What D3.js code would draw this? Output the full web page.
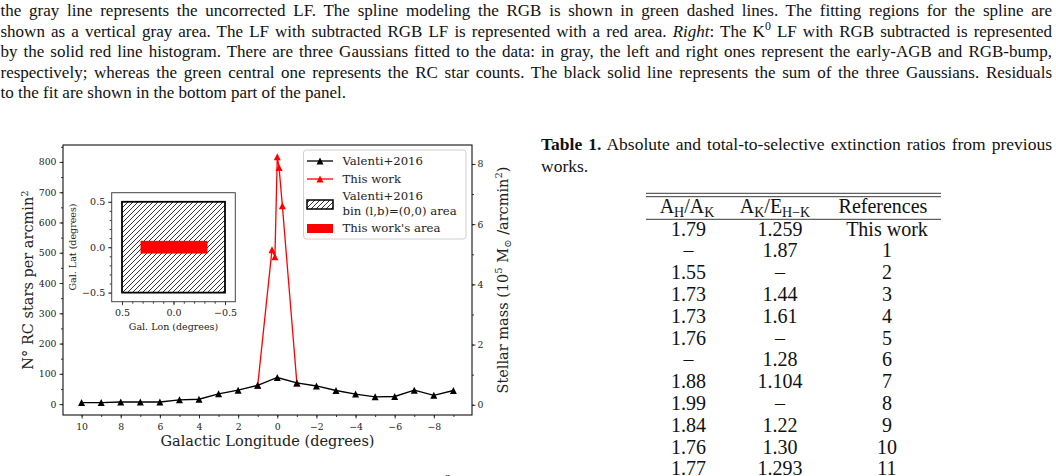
<!DOCTYPE html>
<html>
<head>
<meta charset="utf-8">
<script src="https://cdn.jsdelivr.net/npm/d3@7"></script>
<style>
  html, body { margin: 0; padding: 0; background: #fff; }
  svg { display: block; }
  .serif { font-family: "Liberation Serif", "Times New Roman", serif; fill: #111; }
  .mpl { font-family: "DejaVu Serif", serif; fill: #222; }
</style>
</head>
<body>
<svg id="page" width="1056" height="476"></svg>
<script>
// ---- data ----
const longitudes = [10, 9, 8, 7, 6, 5, 4, 3, 2, 1, 0, -1, -2, -3, -4, -5, -6, -7, -8, -9];
const valentiCounts = [5, 5, 7, 7, 7, 14, 16, 34, 46, 62, 88, 70, 60, 45, 33, 24, 25, 46, 29, 45];
const thisWorkLon = [1, 0.27, 0.12, 0, -0.09, -0.26, -1];
const thisWorkCounts = [62, 510, 487, 817, 782, 655, 70];

const countTicks = [0, 100, 200, 300, 400, 500, 600, 700, 800];
const massTicks = [0, 2, 4, 6, 8];
const lonTicks = [10, 8, 6, 4, 2, 0, -2, -4, -6, -8];
const insetTicks = [0.5, 0, -0.5];

// inset: areas in (lon, lat)
const valentiBinLon = [0.5, -0.5];
const valentiBinLat = [-0.5, 0.5];
const thisWorkAreaLon = [0.32, -0.33];
const thisWorkAreaLat = [-0.07, 0.07];

// table 1
const tableAHAK = ["1.79", "–", "1.55", "1.73", "1.73", "1.76", "–", "1.88", "1.99", "1.84", "1.76", "1.77"];
const tableAKEHK = ["1.259", "1.87", "–", "1.44", "1.61", "–", "1.28", "1.104", "–", "1.22", "1.30", "1.293"];
const tableRefs = ["This work", "1", "2", "3", "4", "5", "6", "7", "8", "9", "10", "11"];

const svg = d3.select("#page");
const fmt = d => String(d).replace("-", "\u2212");

// ---- caption paragraph at top (justified lines) ----
const captionLines = [
  [{t: "the gray line represents the uncorrected LF. The spline modeling the RGB is shown in green dashed lines. The fitting regions for the spline are"}],
  [{t: "shown as a vertical gray area. The LF with subtracted RGB LF is represented with a red area. "}, {t: "Right", it: true},
   {t: ": The K"}, {t: "0", sup: true}, {t: " LF with RGB subtracted is represented"}],
  [{t: "by the solid red line histogram. There are three Gaussians fitted to the data: in gray, the left and right ones represent the early-AGB and RGB-bump,"}],
  [{t: "respectively; whereas the green central one represents the RC star counts. The black solid line represents the sum of the three Gaussians. Residuals"}],
  [{t: "to the fit are shown in the bottom part of the panel."}]
];

function writeLine(x0, x1, y, parts, size, justify) {
  const t = svg.append("text").attr("class", "serif").attr("x", x0).attr("y", y)
    .style("font-size", size + "px");
  parts.forEach(p => {
    const s = t.append("tspan").text(p.t);
    if (p.it) s.style("font-style", "italic");
    if (p.b) s.style("font-weight", "bold");
    if (p.sup) s.style("font-size", (size * 0.7) + "px").attr("baseline-shift", "super");
  });
  if (justify) {
    const natural = t.node().getComputedTextLength();
    const spaces = parts.map(p => p.t).join("").split(" ").length - 1;
    const extra = (x1 - x0) - natural;
    if (extra >= 0) t.style("word-spacing", (extra / spaces) + "px");
    else t.attr("textLength", x1 - x0).attr("lengthAdjust", "spacingAndGlyphs");
  }
  return t;
}

captionLines.forEach((parts, i) => {
  writeLine(0.5, 1052, 16 + i * 20.6, parts, 17, i < captionLines.length - 1);
});

// ---- table caption ----
writeLine(541, 1052, 150, [{t: "Table 1.", b: true}, {t: " Absolute and total-to-selective extinction ratios from previous"}], 17.5, true);
writeLine(541, 1052, 171.5, [{t: "works."}], 17.5, false);

// ---- table ----
const tab = svg.append("g");
const tx0 = 646, tx1 = 941;
[193.3, 196.7].forEach(yy => tab.append("line").attr("x1", tx0).attr("x2", tx1).attr("y1", yy).attr("y2", yy)
  .attr("stroke", "#222").attr("stroke-width", 0.9));
tab.append("line").attr("x1", tx0).attr("x2", tx1).attr("y1", 219.3).attr("y2", 219.3)
  .attr("stroke", "#222").attr("stroke-width", 0.9);

const colX = [688.5, 780, 887];
const tsize = 20;
function header(x, parts) {
  const t = tab.append("text").attr("class", "serif").attr("x", x).attr("y", 213)
    .attr("text-anchor", "middle").style("font-size", tsize + "px");
  parts.forEach(p => {
    const s = t.append("tspan").text(p.t);
    if (p.sub) s.style("font-size", (tsize * 0.7) + "px").attr("dy", 3.5);
    else if (p.back) s.attr("dy", -3.5);
  });
}
header(687, [{t: "A"}, {t: "H", sub: true}, {t: "/A", back: true}, {t: "K", sub: true}]);
header(775, [{t: "A"}, {t: "K", sub: true}, {t: "/E", back: true}, {t: "H\u2212K", sub: true}]);
header(883, [{t: "References"}]);

const rowY = i => 235.5 + i * 21.8;
[tableAHAK, tableAKEHK, tableRefs].forEach((col, c) => {
  tab.selectAll(null).data(col).enter().append("text")
    .attr("class", "serif")
    .attr("x", colX[c]).attr("y", (d, i) => rowY(i))
    .attr("text-anchor", "middle").style("font-size", tsize + "px")
    .text(d => d);
});

// stray superscript of the next caption, cut by the page edge
svg.append("text").attr("class", "serif").attr("x", 445).attr("y", 483).style("font-size", "12px").text("2");

// ---- main chart ----
const L = 63, R = 472, T = 145, B = 415;
const x = d3.scaleLinear().domain([10.95, -9.95]).range([L, R]);
const y = d3.scaleLinear().domain([-36, 856]).range([B, T]);
const y2 = d3.scaleLinear().domain([-0.34, 8.63]).range([B, T]);

const defs = svg.append("defs");
const hatch = defs.append("pattern").attr("id", "hatch").attr("patternUnits", "userSpaceOnUse")
  .attr("width", 5).attr("height", 5);
hatch.append("path").attr("d", "M0,5 L5,0 M-1,1 L1,-1 M4,6 L6,4")
  .attr("stroke", "#000").attr("stroke-width", 0.8);

const chart = svg.append("g");

function styleAxis(g, size) {
  g.select(".domain").remove();
  g.selectAll(".tick line").attr("stroke", "#222").attr("stroke-width", 0.9);
  g.selectAll(".tick text").attr("class", "mpl").attr("fill", "#222")
    .style("font-size", size + "px");
}

// minor ticks
chart.append("g").attr("transform", `translate(${L},0)`)
  .call(d3.axisLeft(y).tickValues(d3.range(-0, 851, 50)).tickSize(2).tickFormat(""))
  .call(g => styleAxis(g, 9.3));
chart.append("g").attr("transform", `translate(${R},0)`)
  .call(d3.axisRight(y2).tickValues(d3.range(0, 9, 1)).tickSize(2).tickFormat(""))
  .call(g => styleAxis(g, 9.3));
chart.append("g").attr("transform", `translate(0,${B})`)
  .call(d3.axisBottom(x).tickValues(d3.range(10, -10, -1)).tickSize(2).tickFormat(""))
  .call(g => styleAxis(g, 9.3));

// major ticks
chart.append("g").attr("transform", `translate(${L},0)`)
  .call(d3.axisLeft(y).tickValues(countTicks).tickSize(3.5).tickPadding(3).tickFormat(fmt))
  .call(g => styleAxis(g, 9.3));
chart.append("g").attr("transform", `translate(${R},0)`)
  .call(d3.axisRight(y2).tickValues(massTicks).tickSize(3.5).tickPadding(2).tickFormat(fmt))
  .call(g => styleAxis(g, 9.3));
chart.append("g").attr("transform", `translate(0,${B})`)
  .call(d3.axisBottom(x).tickValues(lonTicks).tickSize(3.5).tickPadding(4.5).tickFormat(fmt))
  .call(g => styleAxis(g, 9.3));

chart.append("rect").attr("x", L).attr("y", T).attr("width", R - L).attr("height", B - T)
  .attr("fill", "none").attr("stroke", "#111").attr("stroke-width", 1.1);

// axis labels
chart.append("text").attr("class", "mpl").attr("fill", "#222")
  .attr("transform", `translate(33,280) rotate(-90)`).attr("text-anchor", "middle")
  .style("font-size", "14.5px")
  .call(t => {
    t.append("tspan").text("N° RC stars per arcmin");
    t.append("tspan").text("2").style("font-size", "10px").attr("baseline-shift", "super");
  });
chart.append("text").attr("class", "mpl").attr("fill", "#222")
  .attr("transform", `translate(508,280) rotate(-90)`).attr("text-anchor", "middle")
  .style("font-size", "14.5px")
  .call(t => {
    t.append("tspan").text("Stellar mass (10");
    t.append("tspan").text("5").style("font-size", "10px").attr("dy", -6);
    t.append("tspan").text(" M").attr("dy", 6);
    t.append("tspan").text("\u2299").style("font-size", "10px").attr("dy", 3);
    t.append("tspan").text(" /arcmin").attr("dy", -3);
    t.append("tspan").text("2").style("font-size", "10px").attr("dy", -6);
    t.append("tspan").text(")").attr("dy", 6);
  });
chart.append("text").attr("class", "mpl").attr("fill", "#222")
  .attr("x", (L + R) / 2).attr("y", 446).attr("text-anchor", "middle")
  .style("font-size", "14.5px").text("Galactic Longitude (degrees)");

// series
const tri = r => `M0,${-r}L${r},${r}L${-r},${r}Z`;
const line = d3.line().x(d => x(d[0])).y(d => y(d[1]));
const redPts = thisWorkLon.map((l, i) => [l, thisWorkCounts[i]]);
const blackPts = longitudes.map((l, i) => [l, valentiCounts[i]]);

chart.append("path").datum(redPts).attr("d", line)
  .attr("fill", "none").attr("stroke", "#ff0000").attr("stroke-width", 1.3);
chart.selectAll(".redm").data(redPts).enter().append("path")
  .attr("transform", d => `translate(${x(d[0])},${y(d[1])})`)
  .attr("d", tri(3.5)).attr("fill", "#ff0000");

chart.append("path").datum(blackPts).attr("d", line)
  .attr("fill", "none").attr("stroke", "#000").attr("stroke-width", 1.4);
chart.selectAll(".blkm").data(blackPts).enter().append("path")
  .attr("transform", d => `translate(${x(d[0])},${y(d[1])})`)
  .attr("d", tri(3.5)).attr("fill", "#000");

// ---- inset ----
const ix = d3.scaleLinear().domain([0.6, -0.6]).range([111.7, 235.3]);
const iy = d3.scaleLinear().domain([-0.6, 0.6]).range([301.7, 192.7]);
const inset = svg.append("g");
inset.append("rect").attr("x", 111.7).attr("y", 192.7).attr("width", 235.3 - 111.7).attr("height", 301.7 - 192.7)
  .attr("fill", "#fff");
inset.append("rect")
  .attr("x", ix(valentiBinLon[0])).attr("y", iy(valentiBinLat[1]))
  .attr("width", ix(valentiBinLon[1]) - ix(valentiBinLon[0]))
  .attr("height", iy(valentiBinLat[0]) - iy(valentiBinLat[1]))
  .attr("fill", "url(#hatch)").attr("stroke", "#000").attr("stroke-width", 1.8);
inset.append("rect")
  .attr("x", ix(thisWorkAreaLon[0])).attr("y", iy(thisWorkAreaLat[1]))
  .attr("width", ix(thisWorkAreaLon[1]) - ix(thisWorkAreaLon[0]))
  .attr("height", iy(thisWorkAreaLat[0]) - iy(thisWorkAreaLat[1]))
  .attr("fill", "#ff0000");

inset.append("g").attr("transform", "translate(0,301.7)")
  .call(d3.axisBottom(ix).tickValues(d3.range(-0.5, 0.51, 0.1)).tickSize(2).tickFormat(""))
  .call(g => styleAxis(g, 9.5));
inset.append("g").attr("transform", "translate(111.7,0)")
  .call(d3.axisLeft(iy).tickValues(d3.range(-0.5, 0.51, 0.1)).tickSize(2).tickFormat(""))
  .call(g => styleAxis(g, 9.5));
inset.append("g").attr("transform", "translate(0,301.7)")
  .call(d3.axisBottom(ix).tickValues(insetTicks).tickSize(3.5).tickPadding(4).tickFormat(d => fmt(d3.format(".1f")(d))))
  .call(g => styleAxis(g, 9.5));
inset.append("g").attr("transform", "translate(111.7,0)")
  .call(d3.axisLeft(iy).tickValues(insetTicks).tickSize(3.5).tickPadding(3).tickFormat(d => fmt(d3.format(".1f")(d))))
  .call(g => styleAxis(g, 9.5));
inset.append("rect").attr("x", 111.7).attr("y", 192.7).attr("width", 235.3 - 111.7).attr("height", 301.7 - 192.7)
  .attr("fill", "none").attr("stroke", "#444").attr("stroke-width", 1);
inset.append("text").attr("class", "mpl").attr("fill", "#222")
  .attr("transform", "translate(75.5,247) rotate(-90)").attr("text-anchor", "middle")
  .style("font-size", "9.5px").text("Gal. Lat (degrees)");
inset.append("text").attr("class", "mpl").attr("fill", "#222")
  .attr("x", 173.5).attr("y", 330).attr("text-anchor", "middle")
  .style("font-size", "9.5px").text("Gal. Lon (degrees)");

// ---- legend ----
const leg = svg.append("g");
leg.append("rect").attr("x", 303.5).attr("y", 150).attr("width", 162.5).attr("height", 89).attr("rx", 3)
  .attr("fill", "#fff").attr("fill-opacity", 0.8).attr("stroke", "#d0d0d0").attr("stroke-width", 1);
const hx0 = 307, hx1 = 333, tx = 342.5;
[[161, "#000"], [179, "#ff0000"]].forEach(([yy, c]) => {
  leg.append("line").attr("x1", hx0).attr("x2", hx1).attr("y1", yy).attr("y2", yy)
    .attr("stroke", c).attr("stroke-width", 1.3);
  leg.append("path").attr("transform", `translate(${(hx0 + hx1) / 2},${yy})`).attr("d", tri(3.5)).attr("fill", c);
});
leg.append("rect").attr("x", hx0).attr("y", 200).attr("width", hx1 - hx0).attr("height", 9)
  .attr("fill", "url(#hatch)").attr("stroke", "#000").attr("stroke-width", 1.5);
leg.append("rect").attr("x", hx0).attr("y", 224).attr("width", hx1 - hx0).attr("height", 9)
  .attr("fill", "#ff0000");
const legendLabels = [["Valenti+2016", 165], ["This work", 183], ["Valenti+2016", 200], ["bin (l,b)=(0,0) area", 214.5], ["This work's area", 232]];
leg.selectAll(".lt").data(legendLabels).enter().append("text")
  .attr("class", "mpl").attr("fill", "#222")
  .attr("x", tx).attr("y", d => d[1]).style("font-size", "11.7px").text(d => d[0]);
</script>
</body>
</html>
